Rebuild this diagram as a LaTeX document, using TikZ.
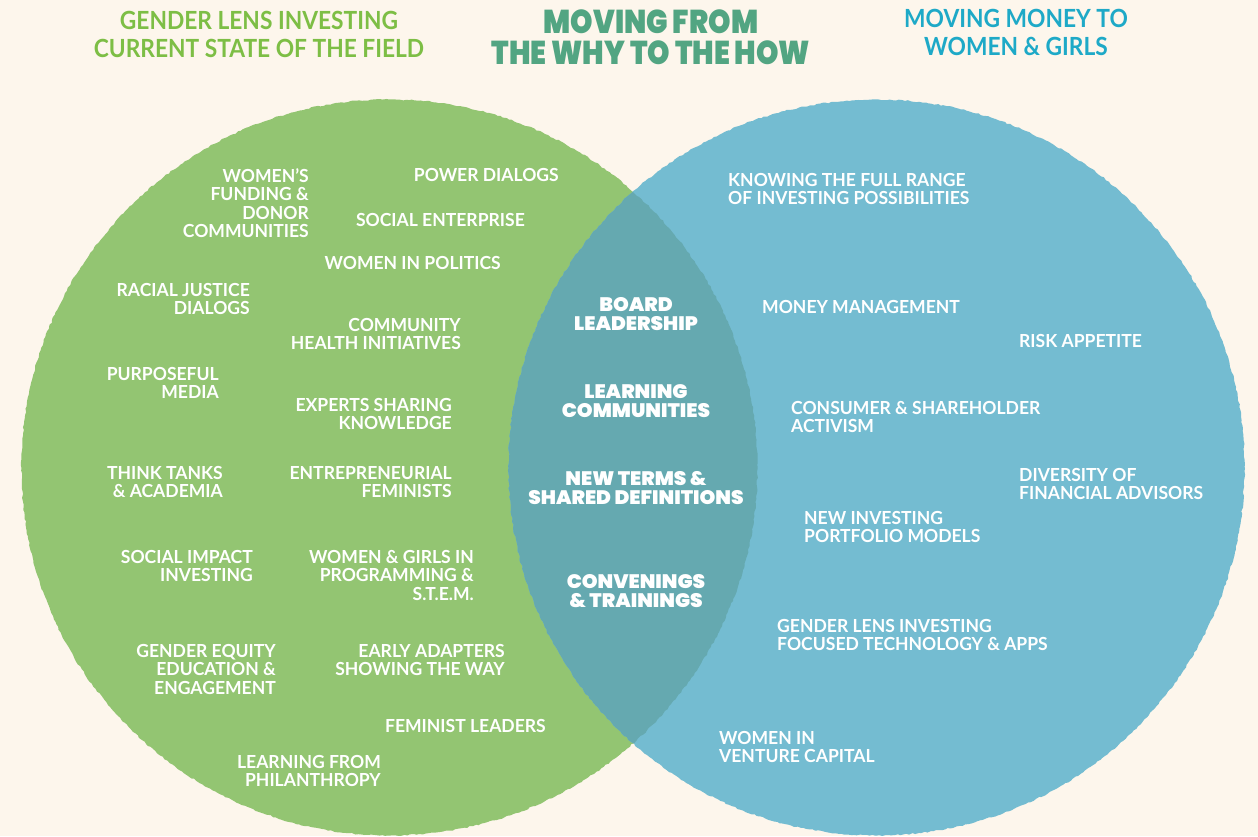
\documentclass[tikz,border=0pt]{standalone}
\usepackage{fontspec}
\setmainfont{Lato}[BoldFeatures={FakeStretch=0.975}]
\newfontfamily\heavyfont{Poppins Black}[FakeStretch=1.03]
\newfontfamily\titlecond{Poppins Black}[FakeStretch=0.865]
\newfontfamily\subcond{Lato}[BoldFeatures={FakeStretch=0.91}]
\usetikzlibrary{decorations.pathmorphing}
\definecolor{bgc}{HTML}{FDF6EC}
\definecolor{lgreen}{HTML}{93C572}
\definecolor{rblue}{HTML}{74BCD1}
\definecolor{lens}{HTML}{65A9B0}
\definecolor{tgreen}{HTML}{7DBE45}
\definecolor{tteal}{HTML}{52A582}
\definecolor{tblue}{HTML}{1EA9C7}
\tikzset{
  rough/.style={decorate,decoration={random steps,segment length=3pt,amplitude=0.7pt}},
  lab/.style={inner sep=0pt,text=white,font=\bfseries\fontsize{18}{18.6}\selectfont},
  Lb/.style={lab,anchor=north east,align=right},
  Rb/.style={lab,anchor=north west,align=left},
  Cb/.style={inner sep=0pt,text=white,anchor=north,align=center,font=\heavyfont\fontsize{19.5}{19}\selectfont},
  sidetitle/.style={inner sep=0pt,anchor=north,align=center,font=\subcond\bfseries\fontsize{25}{28}\selectfont},
  maintitle/.style={inner sep=0pt,anchor=north,align=center,font=\titlecond\fontsize{33}{31}\selectfont,text=tteal}
}
\begin{document}
\begin{tikzpicture}[x=1pt,y=-1pt]
\fill[bgc] (0,0) rectangle (1258,836);
\useasboundingbox (0,0) rectangle (1258,836);
% circles
\pgfmathsetseed{11}
\fill[lgreen,rough] (389.5,467.5) circle[radius=368pt];
\pgfmathsetseed{23}
\fill[rblue,rough] (876.5,467.5) circle[radius=368pt];
\begin{scope}
  \pgfmathsetseed{11}
  \clip[rough] (389.5,467.5) circle[radius=368pt];
  \pgfmathsetseed{23}
  \fill[lens,rough] (876.5,467.5) circle[radius=368pt];
\end{scope}
% titles
\node[sidetitle,text=tgreen] (tl) at (259,11) {GENDER LENS INVESTING\\CURRENT STATE OF THE FIELD};
\node[maintitle] (tc) at (651,10) {MOVING FROM\\THE WHY TO THE HOW};
\node[sidetitle,text=tblue] (tr) at (1016,9) {MOVING MONEY TO\\WOMEN \& GIRLS};
% left circle
\node[Lb] (l1) at (309,168) {WOMEN’S\\FUNDING \&\\DONOR\\COMMUNITIES};
\node[Lb] (l2) at (559,168) {POWER DIALOGS};
\node[Lb] (l3) at (525,213) {SOCIAL ENTERPRISE};
\node[Lb] (l4) at (501,256) {WOMEN IN POLITICS};
\node[Lb] (l5) at (250,283) {RACIAL JUSTICE\\DIALOGS};
\node[Lb] (l6) at (461,318) {COMMUNITY\\HEALTH INITIATIVES};
\node[Lb] (l7) at (219,367) {PURPOSEFUL\\MEDIA};
\node[Lb] (l8) at (452,398) {EXPERTS SHARING\\KNOWLEDGE};
\node[Lb] (l9) at (223,466) {THINK TANKS\\\& ACADEMIA};
\node[Lb] (l10) at (452,466) {ENTREPRENEURIAL\\FEMINISTS};
\node[Lb] (l11) at (253,550) {SOCIAL IMPACT\\INVESTING};
\node[Lb] (l12) at (474,550) {WOMEN \& GIRLS IN\\PROGRAMMING \&\\S.T.E.M.};
\node[Lb] (l13) at (276,644) {GENDER EQUITY\\EDUCATION \&\\ENGAGEMENT};
\node[Lb] (l14) at (505,644) {EARLY ADAPTERS\\SHOWING THE WAY};
\node[Lb] (l15) at (546,719) {FEMINIST LEADERS};
\node[Lb] (l16) at (381,755) {LEARNING FROM\\PHILANTHROPY};
% lens
\node[Cb] (c1) at (636,297) {BOARD\\LEADERSHIP};
\node[Cb] (c2) at (636,384) {LEARNING\\COMMUNITIES};
\node[Cb] (c3) at (636,471) {NEW TERMS \&\\SHARED DEFINITIONS};
\node[Cb] (c4) at (636,574) {CONVENINGS\\\& TRAININGS};
% right circle
\node[Rb] (r1) at (728,173) {KNOWING THE FULL RANGE\\OF INVESTING POSSIBILITIES};
\node[Rb] (r2) at (762,300) {MONEY MANAGEMENT};
\node[Rb] (r3) at (1019,334) {RISK APPETITE};
\node[Rb] (r4) at (791,401) {CONSUMER \& SHAREHOLDER\\ACTIVISM};
\node[Rb] (r5) at (1019,468) {DIVERSITY OF\\FINANCIAL ADVISORS};
\node[Rb] (r6) at (804,511) {NEW INVESTING\\PORTFOLIO MODELS};
\node[Rb] (r7) at (777,619) {GENDER LENS INVESTING\\FOCUSED TECHNOLOGY \& APPS};
\node[Rb] (r8) at (719,731) {WOMEN IN\\VENTURE CAPITAL};
\end{tikzpicture}
\end{document}
